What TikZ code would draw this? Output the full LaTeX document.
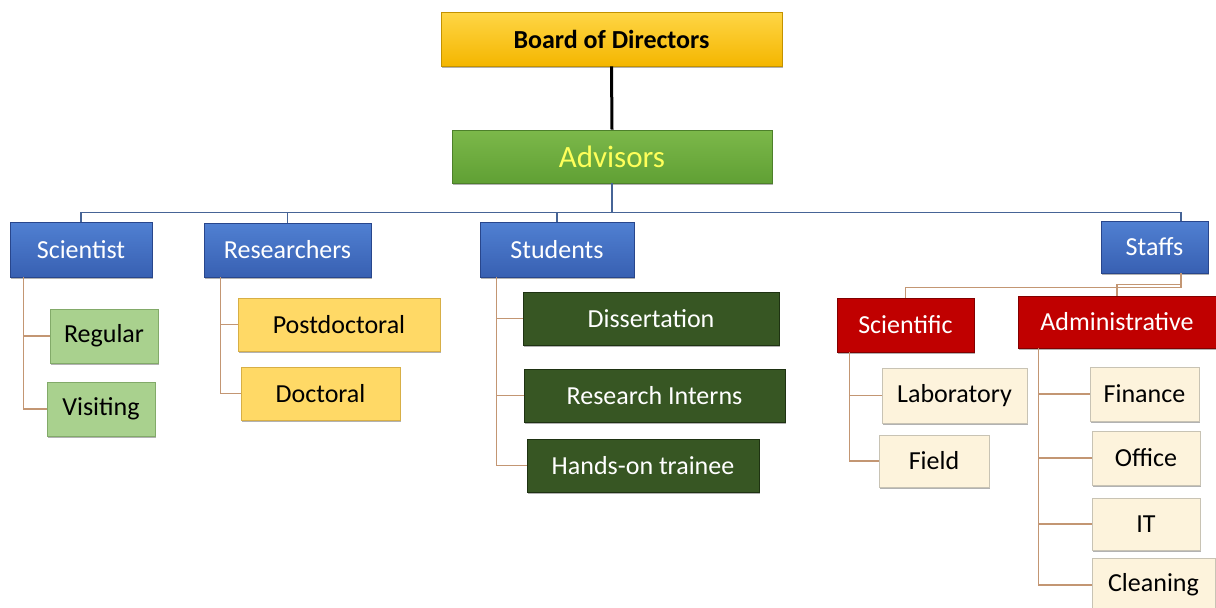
\documentclass[tikz,border=0pt]{standalone}
\usepackage{fontspec}
\setmainfont{Carlito}
\usetikzlibrary{shadows}
\definecolor{goldT}{RGB}{255,214,70}
\definecolor{goldB}{RGB}{244,182,0}
\definecolor{advT}{RGB}{124,184,74}
\definecolor{advB}{RGB}{96,160,52}
\definecolor{advTxt}{RGB}{255,255,90}
\definecolor{blueT}{RGB}{80,128,210}
\definecolor{blueB}{RGB}{56,96,178}
\definecolor{blueD}{RGB}{40,70,140}
\definecolor{lgreen}{RGB}{169,209,142}
\definecolor{lgreenD}{RGB}{130,170,105}
\definecolor{yel}{RGB}{255,217,102}
\definecolor{yelD}{RGB}{215,175,70}
\definecolor{dgreen}{RGB}{55,86,35}
\definecolor{dgreenD}{RGB}{30,50,18}
\definecolor{dred}{RGB}{192,0,0}
\definecolor{dredD}{RGB}{130,0,0}
\definecolor{cream}{RGB}{253,243,220}
\definecolor{creamD}{RGB}{200,195,180}
\definecolor{busc}{RGB}{70,100,150}
\definecolor{tan}{RGB}{195,150,115}
\begin{document}
\begin{tikzpicture}[x=1pt,y=-1pt,
  box/.style={rectangle,inner sep=0pt,line width=0.8pt,
    drop shadow={shadow xshift=1.2pt,shadow yshift=-1.8pt,fill=black,opacity=0.3},
    font=\fontsize{26}{30}\selectfont},
  topbox/.style={box,draw=goldB!80!black,top color=goldT,bottom color=goldB,
    font=\fontsize{26}{30}\selectfont\bfseries,text=black},
  advbox/.style={box,draw=advB!80!black,top color=advT,bottom color=advB,
    font=\fontsize{31}{35}\selectfont,text=advTxt},
  bluebox/.style={box,draw=blueD,top color=blueT,bottom color=blueB,text=white},
  lgbox/.style={box,draw=lgreenD,fill=lgreen,text=black},
  yelbox/.style={box,draw=yelD,fill=yel,text=black},
  dgbox/.style={box,draw=dgreenD,fill=dgreen,text=white},
  redbox/.style={box,draw=dredD,fill=dred,text=white},
  crbox/.style={box,draw=creamD,fill=cream,text=black},
  bus/.style={draw=busc,line width=1.1pt},
  conn/.style={draw=tan,line width=1.2pt},
  thick conn/.style={draw=black,line width=3pt}
]
\useasboundingbox (0,0) rectangle (1216,608);
\fill[white] (0,0) rectangle (1216,608);

% top levels
\node[topbox,minimum width=341pt,minimum height=54pt] (bod) at (611.5,39) {Board of Directors};
\node[advbox,minimum width=320pt,minimum height=53pt] (adv) at (612,156.5) {Advisors};

% second level
\node[bluebox,minimum width=142pt,minimum height=55pt] (sci) at (81,249.5) {Scientist};
\node[bluebox,minimum width=167pt,minimum height=54pt] (res) at (287.5,250) {Researchers};
\node[bluebox,minimum width=154pt,minimum height=55pt] (stu) at (557,249.5) {Students};
\node[bluebox,minimum width=107pt,minimum height=52pt] (stf) at (1154.5,247) {Staffs};

% scientist children
\node[lgbox,minimum width=108pt,minimum height=54pt] (reg) at (104,336) {Regular};
\node[lgbox,minimum width=108pt,minimum height=54pt] (vis) at (101,409) {Visiting};

% researchers children
\node[yelbox,minimum width=202pt,minimum height=53pt] (pdc) at (339,324.5) {Postdoctoral};
\node[yelbox,minimum width=159pt,minimum height=53pt] (doc) at (320.5,393.5) {Doctoral};

% students children
\node[dgbox,minimum width=256pt,minimum height=53pt] (dis) at (651,318.5) {Dissertation};
\node[dgbox,minimum width=261pt,minimum height=53pt] (rin) at (654.5,395.5) {Research Interns};
\node[dgbox,minimum width=232pt,minimum height=53pt] (hot) at (643,465.5) {Hands-on trainee};

% staffs children
\node[redbox,minimum width=137pt,minimum height=54pt] (scf) at (905.5,325) {Scientific};
\node[redbox,minimum width=198pt,minimum height=52pt] (adm) at (1117,322) {Administrative};

\node[crbox,minimum width=145pt,minimum height=55pt] (lab) at (954.5,395.5) {Laboratory};
\node[crbox,minimum width=110pt,minimum height=52pt] (fld) at (934,461) {Field};

\node[crbox,minimum width=109pt,minimum height=54pt] (fin) at (1144.5,394) {Finance};
\node[crbox,minimum width=108pt,minimum height=54pt] (off) at (1146,458) {Office};
\node[crbox,minimum width=108pt,minimum height=52pt] (it) at (1146,524) {IT};
\node[crbox,minimum width=123pt,minimum height=54pt] (cln) at (1153.5,585) {Cleaning};

% connectors
\draw[thick conn] (bod.south) -- (adv.north);
\draw[bus] (adv.south) -- ++(0,29) -| (sci.north);
\draw[bus] (adv.south) -- ++(0,29) -| (res.north);
\draw[bus] (adv.south) -- ++(0,29) -| (stu.north);
\draw[bus] (adv.south) -- ++(0,29) -| ([xshift=26.5pt]stf.north);

\draw[conn] ([xshift=14pt]sci.south west) |- (reg.west);
\draw[conn] ([xshift=14pt]sci.south west) |- (vis.west);

\draw[conn] ([xshift=17pt]res.south west) |- (pdc.west);
\draw[conn] ([xshift=17pt]res.south west) |- (doc.west);

\draw[conn] ([xshift=17pt]stu.south west) |- (dis.west);
\draw[conn] ([xshift=17pt]stu.south west) |- (rin.west);
\draw[conn] ([xshift=17pt]stu.south west) |- (hot.west);

\draw[conn] ([xshift=26.5pt]stf.south) -- ++(0,14) -| (scf.north);
\draw[conn] ([xshift=26.5pt]stf.south) -- ++(0,11) -| (adm.north);

\draw[conn] ([xshift=13pt]scf.south west) |- (lab.west);
\draw[conn] ([xshift=13pt]scf.south west) |- (fld.west);

\draw[conn] ([xshift=21pt]adm.south west) |- (fin.west);
\draw[conn] ([xshift=21pt]adm.south west) |- (off.west);
\draw[conn] ([xshift=21pt]adm.south west) |- (it.west);
\draw[conn] ([xshift=21pt]adm.south west) |- (cln.west);
\end{tikzpicture}
\end{document}
